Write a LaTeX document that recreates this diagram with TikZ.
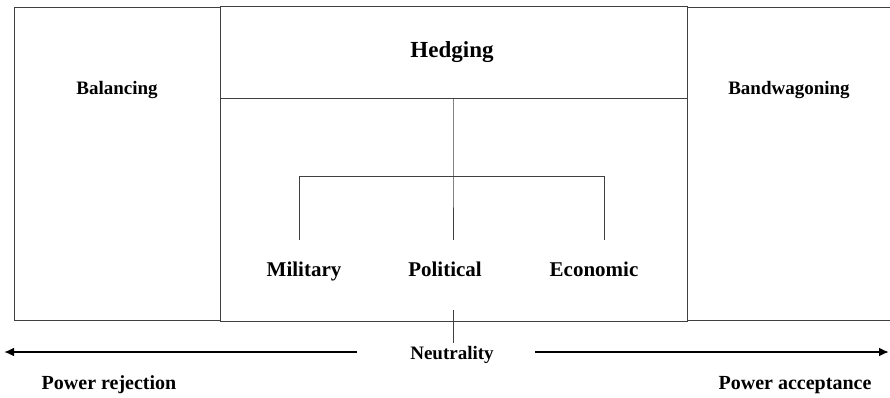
\documentclass[tikz,border=0pt]{standalone}
\usepackage{fontspec}
\setmainfont{Liberation Serif}
\usepackage{tikz}
\usetikzlibrary{arrows}
\usetikzlibrary{arrows.meta}
\newcommand{\lblfont}[1]{\bfseries\fontsize{#1}{#1}\selectfont}

\begin{document}
\begin{tikzpicture}[x=1pt,y=-1pt,
  frame/.style={draw=black!75,line width=0.9pt},
  lbl/.style={anchor=base,inner sep=0pt,font=\lblfont{19}}]
\useasboundingbox (0,0) rectangle (890,397);
% boxes
\draw[frame] (14,7) rectangle (220,320);
\draw[frame] (220,6) rectangle (687,321);
\draw[frame] (220,6) rectangle (687,98);
\draw[frame] (687,7) rectangle (891,320);
% labels
\node[lbl,font=\lblfont{23}] (hedge) at (452,57) {Hedging};
\node[lbl,font=\lblfont{19}] (bal) at (117,94) {Balancing};
\node[lbl,font=\lblfont{19}] (band) at (789,94) {Bandwagoning};
\node[lbl,font=\lblfont{21}] (mil) at (304,276) {Military};
\node[lbl,font=\lblfont{21}] (pol) at (445,276) {Political};
\node[lbl,font=\lblfont{21}] (eco) at (594,276) {Economic};
\node[lbl] (neu) at (452,359) {Neutrality};
\node[lbl,font=\lblfont{20}] (rej) at (109,389) {Power rejection};
\node[lbl,font=\lblfont{20}] (acc) at (795,389) {Power acceptance};
% tree
\coordinate (fork) at (453,176);
\coordinate (milleg) at (299,176);
\coordinate (ecoleg) at (604,176);
\draw[frame] (453,98) -- (fork) -- (453,240);
\draw[frame] (milleg) -- (ecoleg);
\draw[frame] (milleg) -- (299,240);
\draw[frame] (ecoleg) -- (604,240);
\draw[frame] (453,310) -- (453,343);
% axis
\coordinate (leftstart) at (357,352);
\coordinate (leftend) at (4,352);
\coordinate (rightstart) at (535,352);
\coordinate (rightend) at (889,352);
\draw[line width=2pt,arrows={-Latex[length=10pt,width=9pt]}] (leftstart) -- (leftend);
\draw[line width=2pt,arrows={-Latex[length=10pt,width=9pt]}] (rightstart) -- (rightend);
\end{tikzpicture}
\end{document}
